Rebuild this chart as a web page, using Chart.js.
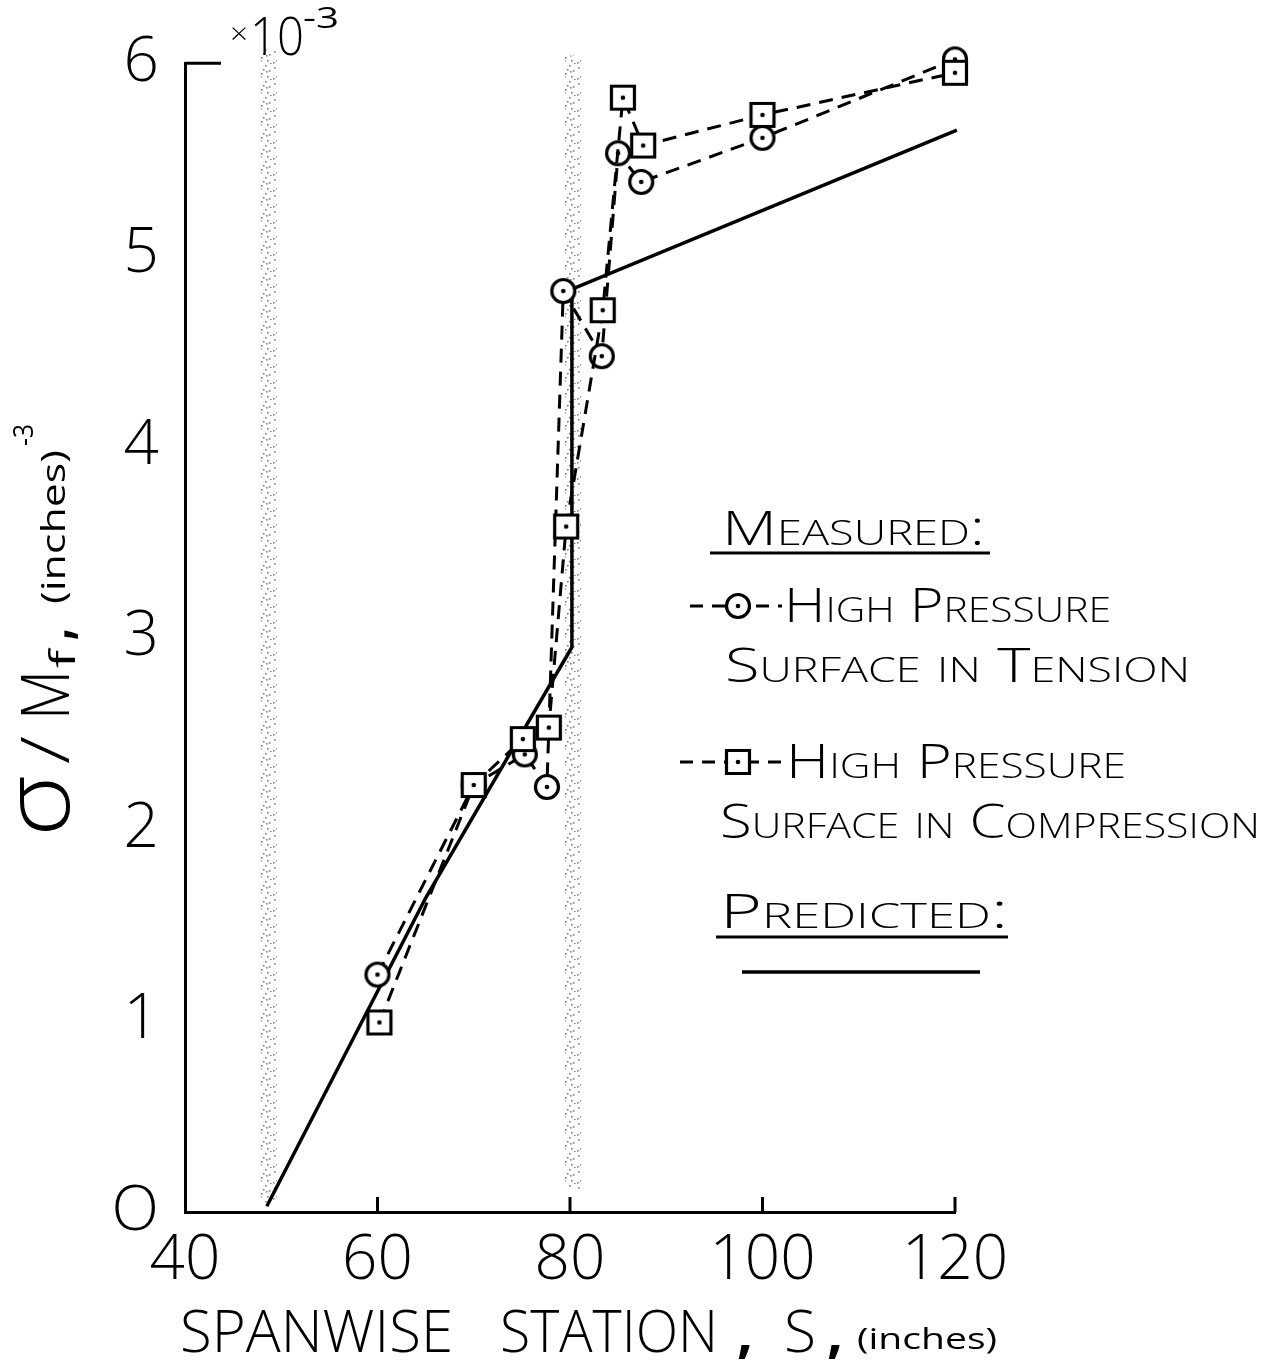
<!DOCTYPE html>
<html lang="en">
<head>
<meta charset="UTF-8">
<title>Spanwise station</title>
<script src="https://cdn.jsdelivr.net/npm/chart.js@4.4.1/dist/chart.umd.min.js"></script>
<style>
  body { margin: 0; background: #fff; }
  canvas { display: block; }
</style>
</head>
<body>
<canvas id="chart" width="1281" height="1369"></canvas>
<script>
// measured, high pressure surface in tension (circles)
const tensionX = [60, 70, 75.3, 77.6, 79.3, 83.3, 85, 87.4, 100, 120]
const tensionY = [1.24, 2.23, 2.39, 2.22, 4.81, 4.47, 5.53, 5.38, 5.61, 6.02]
// measured, high pressure surface in compression (squares)
const compX = [60.2, 70, 75.1, 77.8, 79.6, 83.4, 85.5, 87.6, 100, 120]
const compY = [0.99, 2.23, 2.47, 2.53, 3.58, 4.71, 5.82, 5.57, 5.73, 5.95]
// predicted
const predX = [48.5, 65, 80.2, 80.2, 120.2]
const predY = [0.03, 1.64, 2.95, 4.82, 5.65]
// shaded stations
const bandX = [48.7, 80.3]
const bandY = [[0.05, 6.08], [0.12, 6.04]]

const xTicks = [40, 60, 80, 100, 120]
const xTitle = ['SPANWISE', 'STATION', 'S', '(inches)']
const legendText = ['Measured:', 'High Pressure', 'Surface in Tension', 'High Pressure', 'Surface in Compression', 'Predicted:']

const FONT = '"Open Sans", "DejaVu Sans", sans-serif'

function pts(xs, ys) {
    return xs.map((x, i) => ({ x: x, y: ys[i] }))
}

function marker(kind) {
    let c = document.createElement('canvas')
    c.width = 32
    c.height = 32
    let g = c.getContext('2d')
    g.lineWidth = 3.2
    g.strokeStyle = '#000'
    g.fillStyle = '#fff'
    g.beginPath()
    if (kind == 'circle') g.arc(16, 16, 11.5, 0, Math.PI * 2)
    else g.rect(4.5, 4.5, 23, 23)
    g.fill()
    g.stroke()
    g.fillStyle = '#000'
    g.beginPath()
    g.arc(16, 16, 2.3, 0, Math.PI * 2)
    g.fill()
    return c
}

function stipple() {
    let c = document.createElement('canvas')
    c.width = 16
    c.height = 16
    let g = c.getContext('2d')
    g.fillStyle = 'rgba(40,40,40,0.6)'
    const dots = [[2, 3], [9, 1], [13, 6], [5, 9], [11, 12], [1, 14], [7, 5], [14, 15], [4, 12], [10, 7]]
    dots.forEach(d => g.fillRect(d[0], d[1], 1.6, 1.6))
    return g.createPattern(c, 'repeat')
}

const circleImg = marker('circle')
const squareImg = marker('square')
const dots = stipple()

// draw text squeezed/stretched to a given width
function fitText(ctx, text, left, base, width, font) {
    ctx.save()
    ctx.font = font
    let w = ctx.measureText(text).width
    ctx.translate(left, base)
    ctx.scale(width / w, 1)
    ctx.fillText(text, 0, 0)
    ctx.restore()
}

const decor = {
    id: 'decor',
    afterDraw(chart) {
        const ctx = chart.ctx
        const xs = chart.scales.x
        const ys = chart.scales.y
        ctx.save()
        ctx.fillStyle = '#000'
        ctx.strokeStyle = '#000'
        ctx.lineWidth = 3
        ctx.textBaseline = 'alphabetic'

        // inner ticks
        let yb = ys.getPixelForValue(0)
        xTicks.slice(1).forEach(v => {
            let px = xs.getPixelForValue(v)
            ctx.beginPath()
            ctx.moveTo(px, yb)
            ctx.lineTo(px, yb - 15)
            ctx.stroke()
        })
        let yt = ys.getPixelForValue(6)
        ctx.beginPath()
        ctx.moveTo(xs.left, yt)
        ctx.lineTo(xs.left + 36, yt)
        ctx.stroke()

        // x 10^-3
        fitText(ctx, '×', 230, 44, 18, '300 30px ' + FONT)
        fitText(ctx, '10', 250, 55, 54, '300 53px ' + FONT)
        fitText(ctx, '-3', 303, 28, 36, '400 30px ' + FONT)

        // x title
        const tf = '300 59px ' + FONT
        fitText(ctx, xTitle[0], 180, 1352, 273, tf)
        fitText(ctx, xTitle[1], 500, 1352, 218, tf)
        fitText(ctx, ',', 737, 1352, 16, '700 58px ' + FONT)
        fitText(ctx, xTitle[2], 784, 1352, 32, tf)
        fitText(ctx, ',', 827, 1352, 16, '700 58px ' + FONT)
        fitText(ctx, xTitle[3], 857, 1349, 140, '400 30px ' + FONT)

        // y title, rotated
        ctx.save()
        ctx.translate(69, 0)
        ctx.rotate(-Math.PI / 2)
        // in rotated frame: x = -pageY, y = 69 - pageX
        fitText(ctx, 'σ', -837, 0, 62, '300 92px ' + FONT)
        fitText(ctx, '/', -764, 0, 28, '300 66px ' + FONT)
        fitText(ctx, 'M', -720, 0, 50, '300 66px ' + FONT)
        fitText(ctx, 'f', -668, 6, 18, '400 34px ' + FONT)
        fitText(ctx, ',', -640, 2, 12, '700 56px ' + FONT)
        fitText(ctx, '(inches)', -604, -4, 154, '400 32px ' + FONT)
        fitText(ctx, '-3', -446, -36, 22, '400 28px ' + FONT)
        ctx.restore()

        // legend
        const lf = 'small-caps 300 48px ' + FONT
        fitText(ctx, legendText[0], 722, 545, 263, lf)
        ctx.beginPath()
        ctx.moveTo(710, 553)
        ctx.lineTo(990, 553)
        ctx.stroke()

        ctx.setLineDash([13, 9])
        ctx.beginPath()
        ctx.moveTo(690, 606)
        ctx.lineTo(782, 606)
        ctx.stroke()
        ctx.beginPath()
        ctx.moveTo(680, 762)
        ctx.lineTo(782, 762)
        ctx.stroke()
        ctx.setLineDash([])
        ctx.drawImage(circleImg, 738 - 16, 606 - 16)
        ctx.drawImage(squareImg, 738 - 16, 762 - 16)

        fitText(ctx, legendText[1], 784, 622, 327, lf)
        fitText(ctx, legendText[2], 725, 682, 465, lf)
        fitText(ctx, legendText[3], 786, 778, 340, lf)
        fitText(ctx, legendText[4], 720, 838, 540, lf)
        fitText(ctx, legendText[5], 720, 928, 288, lf)
        ctx.beginPath()
        ctx.moveTo(716, 937)
        ctx.lineTo(1008, 937)
        ctx.stroke()

        ctx.lineWidth = 3.5
        ctx.beginPath()
        ctx.moveTo(742, 972)
        ctx.lineTo(980, 972)
        ctx.stroke()
        ctx.restore()
    }
}

const tickFont = { family: FONT, size: 62, weight: 300 }

new Chart(document.getElementById('chart'), {
    type: 'line',
    data: {
        datasets: [{
            label: 'High Pressure Surface in Compression',
            data: pts(compX, compY),
            borderColor: '#000',
            borderWidth: 3,
            borderDash: [14, 9],
            pointStyle: squareImg,
            pointRadius: 12,
            clip: false,
            order: 1,
        }, {
            label: 'High Pressure Surface in Tension',
            data: pts(tensionX, tensionY),
            borderColor: '#000',
            borderWidth: 3,
            borderDash: [14, 9],
            pointStyle: circleImg,
            pointRadius: 12,
            clip: false,
            order: 2,
        }, {
            label: 'Predicted',
            data: pts(predX, predY),
            borderColor: '#000',
            borderWidth: 3.5,
            pointRadius: 0,
            clip: false,
            order: 5,
        }, {
            label: 'band1',
            data: pts([bandX[0], bandX[0]], bandY[0]),
            borderColor: dots,
            borderWidth: 16,
            pointRadius: 0,
            clip: false,
            order: 10,
        }, {
            label: 'band2',
            data: pts([bandX[1], bandX[1]], bandY[1]),
            borderColor: dots,
            borderWidth: 16,
            pointRadius: 0,
            clip: false,
            order: 10,
        }]
    },
    options: {
        responsive: false,
        animation: false,
        layout: { padding: { top: 57, right: 326, left: 0, bottom: 0 } },
        plugins: {
            legend: { display: false },
            tooltip: { enabled: false },
        },
        scales: {
            x: {
                type: 'linear',
                min: 40,
                max: 120,
                afterFit: s => { s.height = 157 },
                border: { color: '#000', width: 3 },
                grid: { display: false, drawTicks: false },
                ticks: { stepSize: 20, padding: 12, color: '#000', font: tickFont },
            },
            y: {
                min: 0,
                max: 6,
                afterFit: s => { s.width = 185 },
                border: { color: '#000', width: 3 },
                grid: { display: false, drawTicks: false },
                ticks: {
                    stepSize: 1,
                    padding: 26,
                    color: '#000',
                    font: tickFont,
                    callback: v => v == 0 ? 'O' : v,
                },
            },
        },
    },
    plugins: [decor],
})
</script>
</body>
</html>
